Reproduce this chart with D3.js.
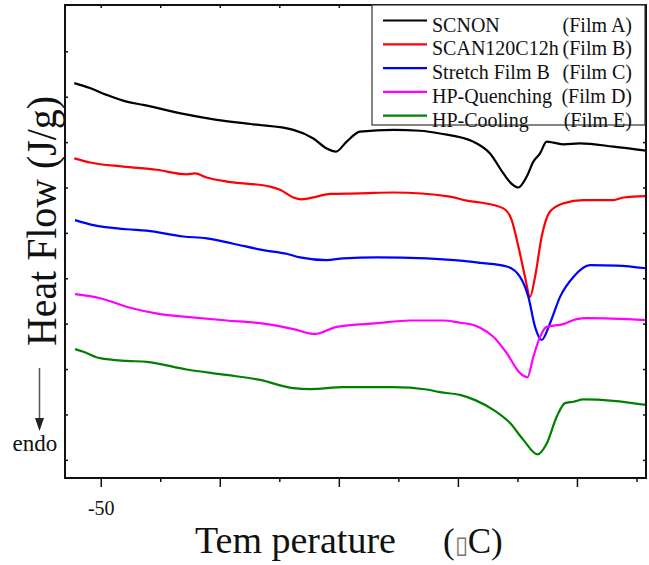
<!DOCTYPE html>
<html>
<head>
<meta charset="utf-8">
<script src="https://cdn.jsdelivr.net/npm/d3@7"></script>
<style>
  body { margin: 0; background: #fff; }
  svg { display: block; }
  text { font-family: "Liberation Serif", "Times New Roman", serif; fill: #111; }
</style>
</head>
<body>
<div id="chart"></div>
<script>
// Temperature (°C) and heat flow readings for each film
var filmA = [[-61.1, 8.30], [-54.5, 8.19], [-47.5, 8.04], [-39.1, 7.89], [-32.1, 7.82], [-15.3, 7.62], [-1.3, 7.49], [14.1, 7.39], [30.9, 7.27], [39.3, 7.08], [44.9, 6.86], [48.8, 6.79], [53.3, 7.01], [58.9, 7.23], [72.9, 7.27], [84.1, 7.25], [92.5, 7.19], [106.5, 7.01], [113.5, 6.75], [119.1, 6.31], [122.6, 6.08], [125.4, 6.00], [128.9, 6.24], [131.7, 6.57], [134.5, 6.75], [137.3, 7.01], [140.1, 6.99], [144.3, 6.95], [151.3, 6.97], [165.3, 6.90], [179, 6.81]];
var filmB = [[-61.1, 6.64], [-54.5, 6.55], [-40.5, 6.46], [-26.5, 6.39], [-13.9, 6.29], [-10.4, 6.31], [-5.5, 6.22], [2.9, 6.13], [21.1, 6.02], [25.3, 5.95], [30.9, 5.78], [34.4, 5.74], [40.7, 5.80], [46.3, 5.86], [58.9, 5.87], [72.9, 5.89], [96.7, 5.80], [103.7, 5.71], [109.3, 5.67], [119.1, 5.54], [122.6, 5.28], [125.4, 4.70], [128.2, 4.03], [130.3, 3.59], [132.4, 4.03], [135.2, 4.92], [138.7, 5.47], [144.3, 5.65], [152.7, 5.72], [165.3, 5.72], [169.5, 5.78], [179, 5.81]];
var filmC = [[-60.8, 5.28], [-53.1, 5.17], [-39.1, 5.08], [-30.7, 5.05], [-15.3, 4.92], [-5.5, 4.88], [5.7, 4.76], [18.3, 4.62], [28.1, 4.54], [33.7, 4.46], [44.9, 4.40], [51.9, 4.44], [65.9, 4.46], [86.9, 4.44], [92.5, 4.42], [100.9, 4.39], [109.3, 4.34], [120.5, 4.26], [126.1, 4.03], [129.6, 3.59], [132.4, 2.93], [135.2, 2.64], [138.7, 3.01], [142.9, 3.59], [148.5, 4.03], [155.5, 4.29], [166.7, 4.28], [179, 4.22]];
var filmD = [[-60.8, 3.65], [-50.3, 3.56], [-37.7, 3.35], [-25.1, 3.21], [-13.9, 3.15], [2.9, 3.07], [16.9, 3.01], [30.9, 2.88], [40.0, 2.77], [49.1, 2.93], [65.9, 3.01], [79.9, 3.07], [93.9, 3.07], [100.9, 3.02], [106.5, 2.97], [109.3, 2.91], [114.9, 2.71], [120.5, 2.35], [126.1, 1.91], [129.2, 1.82], [131.7, 2.27], [134.5, 2.71], [137.3, 2.93], [144.3, 2.99], [149.9, 3.10], [154.1, 3.12], [179, 3.08]];
var filmE = [[-60.8, 2.44], [-57.3, 2.38], [-50.3, 2.24], [-39.1, 2.18], [-30.7, 2.16], [-13.9, 1.99], [2.9, 1.87], [16.9, 1.76], [30.9, 1.58], [37.9, 1.56], [51.9, 1.60], [72.9, 1.60], [86.9, 1.55], [92.5, 1.49], [100.9, 1.43], [107.5, 1.31], [114.9, 1.10], [121.9, 0.81], [127.5, 0.44], [133.4, 0.12], [137.3, 0.36], [141.5, 0.95], [145.0, 1.25], [148.5, 1.28], [152.7, 1.33], [165.3, 1.30], [179, 1.21]];

var seriesNames = ["SCNON", "SCAN120C12h", "Stretch Film B", "HP-Quenching", "HP-Cooling"];
var seriesFilms = ["(Film A)", "(Film B)", "(Film C)", "(Film D)", "(Film E)"];
var seriesColors = ["#000000", "#ff0000", "#0000ff", "#ff00ff", "#008000"];
var seriesData = [filmA, filmB, filmC, filmD, filmE];

var majorTicks = [-50, 0, 50, 100, 150];
var minorTicks = [-25, 25, 75, 125, 175];
var xTickLabels = ["-50", "", "", "", ""];
var yTicks = [0, 1, 2, 3, 4, 5, 6, 7, 8, 9];

function drawChart() {
  var W = 649, H = 565;
  var mLeft = 65, mRight = 646, mTop = 5, mBottom = 478;

  var svg = d3.select("#chart").append("svg")
    .attr("width", W).attr("height", H);

  var x = d3.scaleLinear().domain([-65, 179]).range([mLeft, mRight]);
  var y = d3.scaleLinear().domain([-0.4, 10.02]).range([mBottom, mTop]);

  svg.append("clipPath").attr("id", "clip")
    .append("rect").attr("x", mLeft).attr("y", mTop)
    .attr("width", mRight - mLeft).attr("height", mBottom - mTop);

  // Curves
  var line = d3.line()
    .x(d => x(d[0]))
    .y(d => y(d[1]))
    .curve(d3.curveMonotoneX);

  svg.append("g").attr("clip-path", "url(#clip)")
    .selectAll("path")
    .data(seriesData)
    .enter().append("path")
    .attr("d", line)
    .attr("fill", "none")
    .attr("stroke", (d, i) => seriesColors[i])
    .attr("stroke-width", 2.2)
    .attr("stroke-linejoin", "round");

  // Axes
  function styleAxis(g) {
    g.select(".domain").remove();
    g.selectAll("line").attr("stroke", "#111").attr("stroke-width", 1.5);
  }

  svg.append("g")
    .attr("transform", "translate(0," + mBottom + ")")
    .call(d3.axisBottom(x).tickValues(majorTicks).tickSize(9).tickPadding(14)
      .tickFormat((d, i) => xTickLabels[i]))
    .call(styleAxis)
    .call(g => g.selectAll("text").attr("font-size", 20).attr("fill", "#111")
      .attr("font-family", "Liberation Serif, serif"));

  svg.append("g")
    .attr("transform", "translate(0," + mBottom + ")")
    .call(d3.axisBottom(x).tickValues(minorTicks.filter(v => v < 179)).tickSize(4).tickFormat(""))
    .call(styleAxis);

  svg.append("g")
    .attr("transform", "translate(0," + mTop + ")")
    .call(d3.axisBottom(x).tickValues(majorTicks.concat(minorTicks.filter(v => v < 179))).tickSize(3).tickFormat(""))
    .call(styleAxis);

  svg.append("g")
    .attr("transform", "translate(" + mLeft + ",0)")
    .call(d3.axisRight(y).tickValues(yTicks).tickSize(3).tickFormat(""))
    .call(styleAxis);

  svg.append("g")
    .attr("transform", "translate(" + mRight + ",0)")
    .call(d3.axisLeft(y).tickValues(yTicks).tickSize(3).tickFormat(""))
    .call(styleAxis);

  // Frame
  svg.append("rect")
    .attr("x", mLeft).attr("y", mTop)
    .attr("width", mRight - mLeft).attr("height", mBottom - mTop)
    .attr("fill", "none").attr("stroke", "#111").attr("stroke-width", 2);

  // Legend
  var legend = svg.append("g");
  legend.append("rect")
    .attr("x", 372).attr("y", mTop)
    .attr("width", 273).attr("height", 120)
    .attr("fill", "#fff").attr("stroke", "#333").attr("stroke-width", 1.2);

  var rows = legend.selectAll("g.row")
    .data(seriesNames)
    .enter().append("g")
    .attr("class", "row")
    .attr("transform", (d, i) => "translate(0," + (31.5 + i * 23.8) + ")");

  rows.append("line")
    .attr("x1", 383).attr("x2", 427)
    .attr("y1", -11).attr("y2", -11)
    .attr("stroke", (d, i) => seriesColors[i])
    .attr("stroke-width", 2.2);

  rows.append("text")
    .attr("x", 432).attr("font-size", 20)
    .text(d => d);

  rows.append("text")
    .attr("x", 632).attr("font-size", 20)
    .attr("text-anchor", "end")
    .text((d, i) => seriesFilms[i]);

  // Axis titles
  svg.append("text")
    .attr("transform", "translate(56,221) rotate(-90)")
    .attr("text-anchor", "middle")
    .attr("font-size", 42)
    .attr("textLength", 250)
    .attr("lengthAdjust", "spacingAndGlyphs")
    .text("Heat Flow (J/g)");

  svg.append("text")
    .attr("x", 195).attr("y", 553)
    .attr("font-size", 38)
    .text("Tem perature");

  var unit = svg.append("text")
    .attr("x", 443).attr("y", 553)
    .attr("font-size", 35);
  unit.append("tspan").text("(");
  unit.append("tspan").attr("font-size", 24).attr("fill", "#777").text("\u25AF");
  unit.append("tspan").text("C)");

  // endo arrow
  svg.append("line")
    .attr("x1", 39.5).attr("x2", 39.5)
    .attr("y1", 368).attr("y2", 420)
    .attr("stroke", "#555").attr("stroke-width", 1.5);

  svg.append("path")
    .attr("d", "M35,418 L44,418 L39.5,431 Z")
    .attr("fill", "#222");

  svg.append("text")
    .attr("x", 12.5).attr("y", 451)
    .attr("font-size", 23)
    .text("endo");
}

drawChart();
</script>
</body>
</html>
